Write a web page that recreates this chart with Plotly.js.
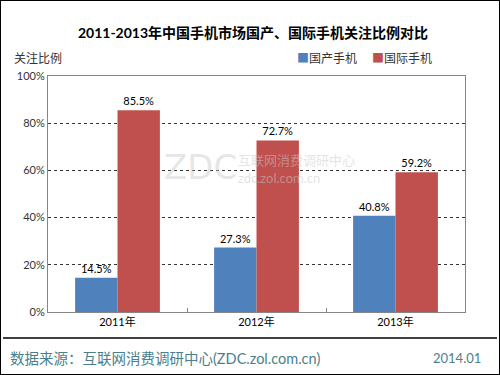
<!DOCTYPE html>
<html><head><meta charset="utf-8">
<script src="https://cdn.plot.ly/plotly-3.0.1.min.js"></script>
<style>
body{margin:0;padding:0;background:#fff;}
#wrap{position:relative;width:500px;height:375px;}
#chart{width:500px;height:375px;}
#frame{position:absolute;left:0;top:0;width:500px;height:375px;box-sizing:border-box;border:1px solid #000;pointer-events:none;}
</style></head>
<body><div id="wrap"><div id="chart"></div><div id="frame"></div></div>
<script>
const categories = ['2011年', '2012年', '2013年'];
const domesticName = '国产手机';
const internationalName = '国际手机';
const domestic = [14.5, 27.3, 40.8];
const international = [85.5, 72.7, 59.2];
const yTicks = [0, 20, 40, 60, 80, 100];

const FONT = 'Lato, "Noto Sans CJK SC", sans-serif';
const BLUE = '#4F81BD', RED = '#C0504D';
const traces = [
  {type:'bar', name:domesticName, x:categories, y:domestic,
   marker:{color:BLUE}, text:domestic.map(v=>v.toFixed(1)+'%'),
   textposition:'outside', cliponaxis:false,
   textfont:{size:11, color:'#000', family:FONT}},
  {type:'bar', name:internationalName, x:categories, y:international,
   marker:{color:RED}, text:international.map(v=>v.toFixed(1)+'%'),
   textposition:'outside', cliponaxis:false,
   textfont:{size:11, color:'#000', family:FONT}}
];
const W=417, H=236, L=48, T=76;
const px = x => (x-L)/W;
const py = y => (T+H-y)/H;
const layout = {
  width:500, height:375,
  margin:{l:48, r:35, t:76, b:63},
  paper_bgcolor:'#fff', plot_bgcolor:'#fff',
  font:{family:FONT, size:11, color:'#333'},
  barmode:'group', bargap:0.39, bargroupgap:0,
  title:{text:'<b>2011-2013年中国手机市场国产、国际手机关注比例对比</b>',
    font:{size:14, color:'#000', family:FONT}, x:0.506, xanchor:'center', y:1-33/375, yanchor:'middle'},
  showlegend:false,
  xaxis:{type:'category', showline:true, linecolor:'#868686', linewidth:1, mirror:true,
    ticks:'inside', tickson:'boundaries', ticklen:4, tickcolor:'#868686',
    tickfont:{size:11, color:'#000', family:FONT}, showgrid:false, fixedrange:true},
  yaxis:{range:[0,100], tickvals:yTicks, ticktext:yTicks.map(v=>v+'%'),
    showline:true, linecolor:'#868686', linewidth:1, mirror:true,
    showgrid:true, gridcolor:'#333', griddash:'dot', gridwidth:1, zeroline:false,
    ticks:'', tickfont:{size:11, color:'#333', family:FONT}, fixedrange:true},
  shapes:[
    {type:'line', xref:'paper', yref:'paper', x0:px(3), x1:px(497), y0:py(338), y1:py(338),
     line:{color:'#000', width:1.5}}
  ],
  annotations:[
    {text:'<span style="color:'+BLUE+'">■</span>'+domesticName, xref:'paper', yref:'paper', x:px(295), y:py(59),
     xanchor:'left', yanchor:'middle', showarrow:false, font:{size:12, color:'#333', family:FONT}},
    {text:'<span style="color:'+RED+'">■</span>'+internationalName, xref:'paper', yref:'paper', x:px(370), y:py(59),
     xanchor:'left', yanchor:'middle', showarrow:false, font:{size:12, color:'#333', family:FONT}},
    {text:'关注比例', xref:'paper', yref:'paper', x:px(12), y:py(59), xanchor:'left', yanchor:'middle',
     showarrow:false, font:{size:12, color:'#333', family:FONT}},
    {text:'数据来源：互联网消费调研中心(ZDC.zol.com.cn)', xref:'paper', yref:'paper', x:px(8), y:py(358),
     xanchor:'left', yanchor:'middle', showarrow:false, font:{size:14.5, color:'#4B7F8C', family:FONT}},
    {text:'2014.01', xref:'paper', yref:'paper', x:px(483), y:py(358),
     xanchor:'right', yanchor:'middle', showarrow:false, font:{size:13, color:'#4B7F8C', family:FONT}},
    {text:'ZDC', xref:'paper', yref:'paper', x:px(162), y:py(167), xanchor:'left', yanchor:'middle',
     showarrow:false, font:{size:34, color:'rgba(200,200,200,0.45)', family:'"DejaVu Sans ExtraLight", "DejaVu Sans", sans-serif'}},
    {text:'互联网消费调研中心', xref:'paper', yref:'paper', x:px(236), y:py(160), xanchor:'left', yanchor:'middle',
     showarrow:false, font:{size:13, color:'rgba(200,200,200,0.5)', family:FONT}},
    {text:'zdc.zol.com.cn', xref:'paper', yref:'paper', x:px(236), y:py(178), xanchor:'left', yanchor:'middle',
     showarrow:false, font:{size:13, color:'rgba(200,200,200,0.5)', family:FONT}}
  ]
};
Plotly.newPlot('chart', traces, layout, {displayModeBar:false, staticPlot:true});
</script></body></html>
